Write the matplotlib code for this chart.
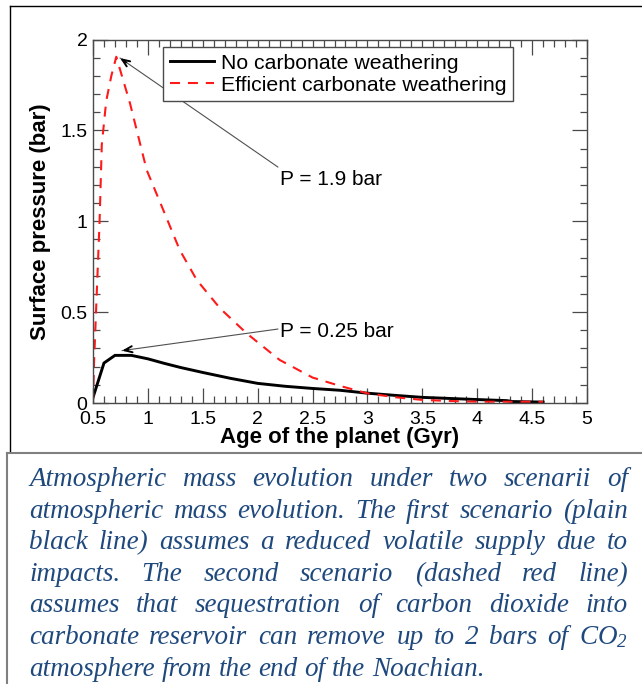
import matplotlib
matplotlib.use("Agg")
import matplotlib.pyplot as plt
from matplotlib.lines import Line2D
from matplotlib.ticker import MultipleLocator, FuncFormatter

# --------- data ---------
black_age = [0.5, 0.6, 0.7, 0.85, 1.0, 1.15, 1.3, 1.5, 1.75, 2.0, 2.25, 2.5,
             2.75, 3.0, 3.25, 3.5, 3.75, 4.0, 4.27, 4.32, 4.6]
black_p = [0.03, 0.22, 0.262, 0.262, 0.243, 0.218, 0.195, 0.168, 0.136, 0.108,
           0.092, 0.08, 0.07, 0.054, 0.042, 0.031, 0.025, 0.019, 0.013, 0.008, 0.005]

red_age = [0.5, 0.51, 0.53, 0.56, 0.58, 0.62, 0.667, 0.712, 0.837, 0.989, 1.14,
           1.29, 1.445, 1.657, 1.9, 2.2, 2.5, 2.75, 3.0, 3.25, 3.5, 3.75, 4.0, 4.3, 4.6]
red_p = [0.0, 0.23, 0.54, 1.0, 1.42, 1.66, 1.80, 1.905, 1.649, 1.282, 1.062,
         0.842, 0.677, 0.521, 0.383, 0.237, 0.14, 0.094, 0.053, 0.032, 0.017,
         0.011, 0.007, 0.007, 0.007]

legend_labels = ["No carbonate weathering", "Efficient carbonate weathering"]

# (text, text pos, arrow tail, arrow head)
notes = [
    ("P = 1.9 bar", (2.203, 1.227), (2.185, 1.298), (0.746, 1.898)),
    ("P = 0.25 bar", (2.203, 0.392), (2.185, 0.407), (0.764, 0.288)),
]

caption_lines = [
    "Atmospheric mass evolution under two scenarii of",
    "atmospheric mass evolution. The first scenario (plain",
    "black line) assumes a reduced volatile supply due to",
    "impacts. The second scenario (dashed red line)",
    "assumes that sequestration of carbon dioxide into",
    "carbonate reservoir can remove up to 2 bars of CO$_2$",
    "atmosphere from the end of the Noachian.",
]

# --------- style ---------
W, H = 642, 684
plt.rcParams["font.family"] = ["Liberation Sans", "DejaVu Sans"]
plt.rcParams["mathtext.fontset"] = "custom"
plt.rcParams["mathtext.rm"] = "Liberation Serif:italic"
plt.rcParams["mathtext.it"] = "Liberation Serif:italic"
frame_col = "#4a4a4a"

fig = plt.figure(figsize=(W / 100, H / 100), dpi=100)

def px(x, y):
    # pixel (from top-left) -> figure fraction
    return x / W, 1 - y / H

l, t = px(93, 39.5)
r, b = px(587, 403)
ax = fig.add_axes([l, b, r - l, t - b])

ax.plot(black_age, black_p, color="black", lw=2.1, solid_joinstyle="miter",
        label=legend_labels[0])
ax.plot(red_age, red_p, color="#ff1a1a", lw=1.5, dashes=(4.8, 3.8),
        label=legend_labels[1])

ax.set_xlim(0.5, 5)
ax.set_ylim(0, 2)
ax.xaxis.set_major_locator(MultipleLocator(0.5))
ax.xaxis.set_minor_locator(MultipleLocator(0.1))
ax.yaxis.set_major_locator(MultipleLocator(0.5))
ax.yaxis.set_minor_locator(MultipleLocator(0.1))
fmt = FuncFormatter(lambda v, p: f"{v:g}")
ax.xaxis.set_major_formatter(fmt)
ax.yaxis.set_major_formatter(fmt)
ax.tick_params(which="both", direction="in", top=True, right=True,
               color=frame_col, labelsize=14)
ax.tick_params(axis="x", pad=6)
ax.tick_params(axis="y", pad=4)
ax.tick_params(which="major", length=10.5, width=0.9)
ax.tick_params(which="minor", length=5, width=0.9)
for s in ax.spines.values():
    s.set_color(frame_col)
    s.set_linewidth(1.0)

ax.set_xlabel("Age of the planet (Gyr)", fontsize=16, fontweight="bold", labelpad=-1)
ax.set_ylabel("Surface pressure (bar)", fontsize=16, fontweight="bold", labelpad=7)

leg = ax.legend(loc="upper left", bbox_to_anchor=(0.1423, 0.9785), borderaxespad=0,
                fontsize=15.3, handlelength=2.1, handletextpad=0.3, labelspacing=0.15,
                borderpad=0.3, fancybox=False, framealpha=1, edgecolor=frame_col)
leg.get_frame().set_linewidth(1.0)

for txt, tpos, tail, head in notes:
    ax.text(tpos[0], tpos[1], txt, fontsize=15, ha="left", va="center")
    ax.annotate("", xy=head, xytext=tail,
                arrowprops=dict(arrowstyle="-", color="#505050", lw=0.8,
                                shrinkA=0, shrinkB=0))
    near = (head[0] + 0.04 * (tail[0] - head[0]), head[1] + 0.04 * (tail[1] - head[1]))
    ax.annotate("", xy=head, xytext=near,
                arrowprops=dict(arrowstyle="->,head_length=0.55,head_width=0.22",
                                color="black", lw=1.4, shrinkA=0, shrinkB=0))

# --------- outer frames ---------
fig.add_artist(Line2D([10 / W, 1.0], [1 - 6 / H] * 2, color="black", lw=1.0))
fig.add_artist(Line2D([10 / W] * 2, [1 - 6 / H, 1 - 452 / H], color="black", lw=1.0))
fig.add_artist(Line2D([7 / W, 1.0], [1 - 452.5 / H] * 2, color="#808080", lw=1.5))
fig.add_artist(Line2D([7 / W] * 2, [1 - 452.5 / H, 0], color="#808080", lw=1.5))

# --------- justified caption ---------
cap_col = "#1f497d"
x_left, x_right = 29, 628
base0, dy = 486, 31.6
renderer = fig.canvas.get_renderer()
for i, line in enumerate(caption_lines):
    words = line.split(" ")
    y = 1 - (base0 + i * dy) / H
    objs = [fig.text(0, y, w, fontsize=19.5, family=["Liberation Serif", "DejaVu Serif"],
                     style="italic", color=cap_col, va="baseline", ha="left")
            for w in words]
    widths = [o.get_window_extent(renderer).width for o in objs]
    if i < len(caption_lines) - 1 and len(words) > 1:
        gap = (x_right - x_left - sum(widths)) / (len(words) - 1)
    else:
        gap = objs[0].get_fontsize() * 0.25 * 100 / 72
    x = x_left
    for o, wpx in zip(objs, widths):
        o.set_x(x / W)
        x += wpx + gap

fig.savefig("out.png", dpi=100)
